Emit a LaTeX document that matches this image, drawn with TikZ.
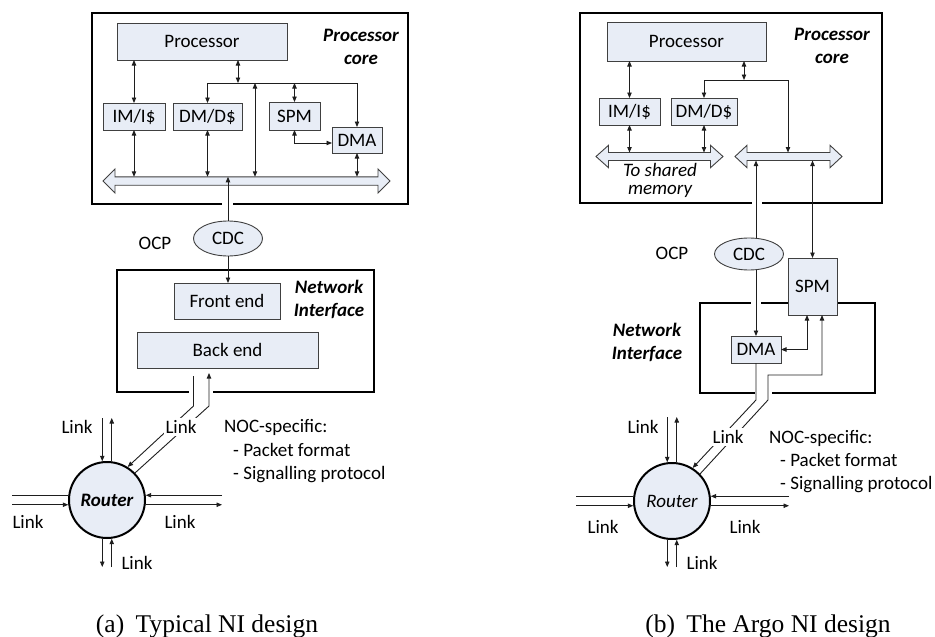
\documentclass[tikz,border=0pt]{standalone}
\usepackage{fontspec}
\setmainfont{Carlito}
\newfontfamily\capfont{Liberation Serif}
\usetikzlibrary{arrows.meta,shapes.geometric,calc}

\definecolor{boxfill}{RGB}{232,237,246}
\definecolor{boxline}{RGB}{64,64,64}
\definecolor{wirecol}{RGB}{30,30,30}

\tikzset{
  blk/.style={draw=boxline, fill=boxfill, line width=0.9pt, inner sep=0pt, outer sep=0pt,
              font=\fontsize{19}{23}\selectfont},
  busline/.style={draw=boxline, fill=boxfill, line width=0.9pt, line join=miter},
  frame/.style={draw=black, line width=2.4pt},
  wire/.style={draw=wirecol, line width=0.9pt},
  arr/.style={wire, -{Triangle[length=5.5pt,width=4.4pt]}},
  dbl/.style={wire, {Triangle[length=5.5pt,width=4.4pt]}-{Triangle[length=5.5pt,width=4.4pt]}},
  lbl/.style={inner sep=0pt, font=\fontsize{19}{23}\selectfont},
  ttl/.style={inner sep=0pt, align=center, font=\fontsize{19}{23}\selectfont\bfseries\itshape},
  router/.style={circle, draw=black, fill=boxfill, line width=2pt, minimum size=76pt,
                 inner sep=0pt, outer sep=1pt, font=\fontsize{19}{23}\selectfont},
  capt/.style={inner sep=0pt, anchor=base, font=\capfont\fontsize{25.5}{29}\selectfont},
}

% bus with arrow heads at both ends: name, left tip, right tip, centre y,
% half body height, half head height, head length
\newcommand\drawbus[7]{%
  \draw[busline] (#2,#4) -- (#2+#7,#4-#6) -- (#2+#7,#4-#5) -- (#3-#7,#4-#5)
    -- (#3-#7,#4-#6) -- (#3,#4) -- (#3-#7,#4+#6) -- (#3-#7,#4+#5)
    -- (#2+#7,#4+#5) -- (#2+#7,#4+#6) -- cycle;
  \path (#2/2+#3/2,#4) node[minimum width={#3-#2-2*#7}, minimum height={2*#5},
    inner sep=0pt, outer sep=0pt] (#1) {};
}

% the four bidirectional links around a router: name, top y, left x, right x, bottom y
\newcommand\routerlinks[5]{%
  \coordinate (#1-t) at (0,#2);
  \coordinate (#1-l) at (#3,0);
  \coordinate (#1-r) at (#4,0);
  \coordinate (#1-b) at (0,#5);
  \draw[arr] (#1.97 |- #1-t) -- (#1.97);
  \draw[arr] (#1.83) -- (#1.83 |- #1-t);
  \draw[wire] (#1.173) -- (#1-l |- #1.173);
  \draw[arr] (#1-l |- #1.187) -- (#1.187);
  \draw[arr] (#1-r |- #1.7) -- (#1.7);
  \draw[arr] (#1.353) -- (#1-r |- #1.353);
  \draw[arr] (#1.263) -- (#1.263 |- #1-b);
  \draw[arr] (#1.277 |- #1-b) -- (#1.277);
}

\begin{document}
\begin{tikzpicture}[x=1pt,y=-1pt]
\useasboundingbox (0,0) rectangle (935,637);

% ---------- outer frames ----------
\draw[frame] (92,13) rectangle (408,204);
\draw[frame] (117,270) rectangle (374,392);
\draw[frame] (580,13) rectangle (882,203);
\draw[frame] (700,303) rectangle (875,393);
% openings where wires pass through the frames
\fill[white] (222,199) rectangle (233,209);
\fill[white] (189,388) rectangle (213,397);
\fill[white] (752,198) rectangle (762,208);
\fill[white] (751,298) rectangle (761,308);
\fill[white] (755,388) rectangle (772,398);

% ---------- frame titles ----------
\node[ttl] (coreAt) at (361,46.5) {Processor\\core};
\node[ttl] (niAt) at (329,299) {Network\\Interface};
\node[ttl] (coreBt) at (832,46) {Processor\\core};
\node[ttl] (niBt) at (647,342.5) {Network\\Interface};

% ================= (a) typical NI =================
\drawbus{busA}{103}{390}{181}{4.2}{12}{12}
\node[blk, minimum width=170, minimum height=37] (procA) at (202,41.5) {Processor};
\node[blk, minimum width=62, minimum height=27] (imA) at (134,116.5) {IM/I\$};
\node[blk, minimum width=69, minimum height=27] (dmA) at (207.5,116.5) {DM/D\$};
\node[blk, minimum width=51, minimum height=28] (spmA) at (294.5,116) {SPM};
\node[blk, minimum width=50, minimum height=26] (dmaA) at (357,140) {DMA};
\node[blk, ellipse, minimum width=69, minimum height=35] (cdcA) at (228,238.5) {CDC};
\node[blk, minimum width=106, minimum height=36] (feA) at (227,301) {Front end};
\node[blk, minimum width=181, minimum height=36] (beA) at (227.5,350) {Back end};
\node[router] (routerA) at (107,500) {\bfseries\itshape Router};

\draw[dbl] (procA.south -| imA) -- (imA.north);
\draw[dbl] (imA.south) -- (imA.south |- busA.north);
\draw[dbl] (dmA.south) -- (dmA.south |- busA.north);
\coordinate (hA) at (238,83);
\coordinate (vA) at (255,83);
\draw[dbl] (procA.south -| hA) -- (hA);
\draw[arr] (hA) -| (dmA.north);
\draw[arr] (hA) -| (dmaA.north);
\draw[dbl] (vA) -- (vA |- busA.north);
\draw[dbl] (spmA.north |- hA) -- (spmA.north);
\draw[dbl] (spmA.south) |- ($(dmaA.west)+(0,3)$);
\draw[dbl] (dmaA.south) -- (dmaA.south |- busA.north);
\draw[arr] (cdcA.north) -- (cdcA.north |- busA.north);
\draw[arr] (cdcA.south) -- (cdcA.south |- feA.north);

\coordinate (sA) at (193.5,376);
\coordinate (bA1) at (193.5,406);
\coordinate (bA2) at (209,406);
\coordinate (eA) at (209,373);
\draw[arr] (sA) -- (bA1) -- (routerA.58);
\draw[arr] (routerA.44) -- (bA2) -- (eA);
\routerlinks{routerA}{418}{12}{222}{567}

\node[lbl] (ocpA) at (155,243) {OCP};
\node[lbl] (lkA1) at (77,427) {Link};
\node[lbl, fill=white, inner sep=2pt] (lkA2) at (181,427) {Link};
\node[lbl] (lkA3) at (28,522) {Link};
\node[lbl] (lkA4) at (180,522) {Link};
\node[lbl] (lkA5) at (137,563) {Link};
\node[lbl, anchor=base west] (nocA1) at (224,432.5) {NOC-specific:};
\node[lbl, anchor=base west] (nocA2) at (233,456.5) {- Packet format};
\node[lbl, anchor=base west] (nocA3) at (233,479.5) {- Signalling protocol};
\node[capt] (capA) at (207,632) {(a)\hskip0.45em Typical NI design};

% ================= (b) Argo NI =================
\drawbus{busBL}{596}{723}{156.5}{4}{11.2}{12.5}
\drawbus{busBR}{735}{842}{156.5}{4}{11.2}{12}
\node[blk, minimum width=159, minimum height=39] (procB) at (686.5,41.5) {Processor};
\node[blk, minimum width=61, minimum height=27] (imB) at (629.5,111.5) {IM/I\$};
\node[blk, minimum width=66, minimum height=27] (dmB) at (704,111.5) {DM/D\$};
\node[blk, ellipse, minimum width=69, minimum height=32] (cdcB) at (749,254) {CDC};
\node[blk, minimum width=49, minimum height=57] (spmB) at (812.5,286.5) {SPM};
\node[blk, minimum width=50, minimum height=27] (dmaB) at (756,349.5) {DMA};
\node[router] (routerB) at (672,501) {\itshape Router};
\node[lbl, align=center, font=\fontsize{19}{17.5}\selectfont\itshape] (shmB) at (660,180.5) {To shared\\memory};

\draw[dbl] (procB.south -| imB) -- (imB.north);
\draw[dbl] (imB.south) -- (imB.south |- busBL.north);
\draw[dbl] (dmB.south) -- (dmB.south |- busBL.north);
\coordinate (hB) at (744,80);
\coordinate (hB2) at (788,80);
\draw[dbl] (procB.south -| hB) -- (hB);
\draw[arr] (hB) -| (dmB.north);
\draw[arr] (hB) -- (hB2) -- (hB2 |- busBR.north);
\coordinate (cB) at (756,0);
\draw[arr] (cB |- cdcB.north) -- (cB |- busBR.south);
\draw[arr] (cB |- cdcB.south) -- (cB |- dmaB.north);
\draw[dbl] (spmB.north) -- (spmB.north |- busBR.south);
\coordinate (dsB) at (807,0);
\draw[dbl] (dmaB.east) -| (dsB |- spmB.south);

\coordinate (kB1) at (822,375);
\coordinate (kB2) at (768,375);
\coordinate (kB3) at (768,400);
\coordinate (kB4) at (756,400);
\draw[arr] (routerB.44) -- (kB3) -- (kB2) -- (kB1) -- (kB1 |- spmB.south);
\draw[arr] (dmaB.south) -- (kB4) -- (routerB.58);
\routerlinks{routerB}{417}{576}{789}{567}

\node[lbl] (ocpB) at (672,253) {OCP};
\node[lbl] (lkB1) at (643,427) {Link};
\node[lbl, fill=white, inner sep=2pt] (lkB2) at (728,437) {Link};
\node[lbl] (lkB3) at (603,527) {Link};
\node[lbl] (lkB4) at (745,527) {Link};
\node[lbl] (lkB5) at (702,563) {Link};
\node[lbl, anchor=base west] (nocB1) at (769,443.5) {NOC-specific:};
\node[lbl, anchor=base west] (nocB2) at (780,466.5) {- Packet format};
\node[lbl, anchor=base west] (nocB3) at (780,489.5) {- Signalling protocol};
\node[capt] (capB) at (768,632) {(b)\hskip0.45em The Argo NI design};
\end{tikzpicture}
\end{document}
